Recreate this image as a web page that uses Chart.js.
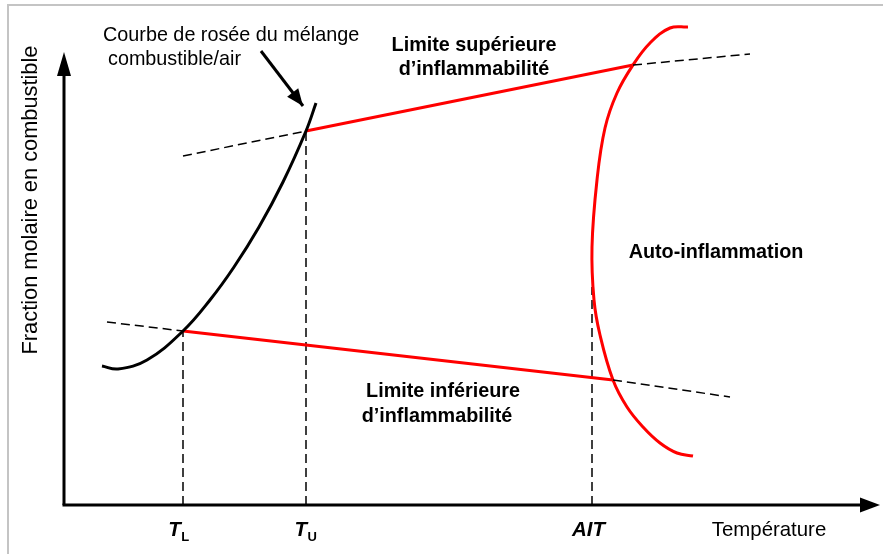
<!DOCTYPE html>
<html><head><meta charset="utf-8">
<script src="https://cdn.jsdelivr.net/npm/chart.js@4/dist/chart.umd.min.js"></script>
<style>
html,body{margin:0;padding:0;background:#fff;overflow:hidden}
#wrap{position:relative;width:883px;height:554px}
#frame{position:absolute;left:7px;top:4px;right:0;bottom:0;border-top:2px solid #c4c4c4;border-left:2px solid #c4c4c4;pointer-events:none}
canvas{position:absolute;left:0;top:0}
</style></head><body>
<div id="wrap"><canvas id="c" width="883" height="554"></canvas><div id="frame"></div></div>
<script>
// ---- Data (x: température, y: fraction molaire; origin at the axes crossing) ----
const dewTemp = [38, 54, 83, 119, 146, 170, 195, 219, 242, 252];
const dewFrac = [139, 136, 145, 174, 205, 238, 278, 323, 374, 402];
const uflTemp = [119, 242, 569, 686];
const uflFrac = [349, 374, 440, 451];
const lflTemp = [43, 119, 549, 666];
const lflFrac = [183, 174, 125, 108];
const aitTemp = [624, 606, 586, 569, 553, 541, 533, 528, 530, 536, 549, 563, 579, 596, 613, 629];
const aitFrac = [478, 477, 462, 440, 412, 377, 325, 258, 205, 170, 125, 98, 78, 62, 52, 49];
const tickNames = ['T', 'T', 'AIT'];
const tickSubs = ['L', 'U', ''];
const tickTemp = [119, 242, 528];
const tickFrac = [174, 374, 218];
const axisMax = [816, 453];           // arrow tips (temperature, fraction)
const xTitle = 'Température';
const yTitle = 'Fraction molaire en combustible';
const noteTexts = ['Courbe de rosée du mélange', 'combustible/air',
  'Limite supérieure', 'd’inflammabilité', 'Auto-inflammation',
  'Limite inférieure', 'd’inflammabilité'];

// ---- Layout / style (not data) ----
const FONT = '"Liberation Sans", Arial, Helvetica, sans-serif';
const noteLayout = [
  {x: 39, y: 469, w: 'normal', align: 'left'},
  {x: 44, y: 445, w: 'normal', align: 'left'},
  {x: 410, y: 459, w: 'bold', align: 'center'},
  {x: 410, y: 435, w: 'bold', align: 'center'},
  {x: 652, y: 252, w: 'bold', align: 'center'},
  {x: 379, y: 113, w: 'bold', align: 'center'},
  {x: 373, y: 88, w: 'bold', align: 'center'}
];
const tickShift = [-4, 0, -3.5];
const pointer = {from: [197, 454], to: [239, 399]};

const pts = (xs, ys) => xs.map((x, i) => ({x, y: ys[i]}));
const DASH = [9, 5];
const limitSeg = {
  borderColor: c => c.p0DataIndex === 1 ? '#ff0000' : '#000',
  borderWidth: c => c.p0DataIndex === 1 ? 3 : 1.5,
  borderDash: c => c.p0DataIndex === 1 ? [] : DASH
};

const datasets = [
  {data: pts(dewTemp, dewFrac), borderColor: '#000', borderWidth: 3, tension: 0.4},
  {data: pts(uflTemp, uflFrac), segment: limitSeg, borderColor: '#000'},
  {data: pts(lflTemp, lflFrac), segment: limitSeg, borderColor: '#000'},
  {data: pts(aitTemp, aitFrac), borderColor: '#ff0000', borderWidth: 3, tension: 0.4}
];
tickTemp.forEach((t, i) => datasets.push({
  data: [{x: t, y: 0}, {x: t, y: tickFrac[i]}], borderColor: '#000', borderWidth: 1.5, borderDash: DASH
}));
datasets.push({data: [{x: pointer.from[0], y: pointer.from[1]}, {x: pointer.to[0], y: pointer.to[1]}],
  borderColor: '#000', borderWidth: 3});
datasets.forEach(d => { d.showLine = true; d.pointRadius = 0; d.pointHoverRadius = 0; d.fill = false; });

function head(ctx, x0, y0, x1, y1, len, hw) {
  const a = Math.atan2(y1 - y0, x1 - x0);
  ctx.save(); ctx.translate(x1, y1); ctx.rotate(a);
  ctx.beginPath(); ctx.moveTo(0, 0); ctx.lineTo(-len, -hw); ctx.lineTo(-len, hw); ctx.closePath();
  ctx.fillStyle = '#000'; ctx.fill(); ctx.restore();
}

const deco = {
  id: 'deco',
  afterDatasetsDraw(chart) {
    const ctx = chart.ctx, X = chart.scales.x, Y = chart.scales.y;
    const ox = X.getPixelForValue(0), oy = Y.getPixelForValue(0);
    const tx = X.getPixelForValue(axisMax[0]), ty = Y.getPixelForValue(axisMax[1]);
    ctx.save();
    ctx.strokeStyle = '#000'; ctx.lineWidth = 3; ctx.lineCap = 'butt';
    ctx.beginPath(); ctx.moveTo(ox, oy); ctx.lineTo(ox, ty + 18); ctx.stroke();
    ctx.beginPath(); ctx.moveTo(ox - 1.5, oy); ctx.lineTo(tx - 18, oy); ctx.stroke();
    head(ctx, ox, oy, ox, ty, 24, 7);
    head(ctx, ox, oy, tx, oy, 20, 7.5);
    // pointer arrow head
    const p0x = X.getPixelForValue(pointer.from[0]), p0y = Y.getPixelForValue(pointer.from[1]);
    const p1x = X.getPixelForValue(pointer.to[0]), p1y = Y.getPixelForValue(pointer.to[1]);
    head(ctx, p0x, p0y, p1x, p1y, 17, 7);
    // notes
    ctx.fillStyle = '#000'; ctx.textBaseline = 'middle';
    noteTexts.forEach((t, i) => {
      const L = noteLayout[i];
      ctx.font = L.w + ' 19.8px ' + FONT; ctx.textAlign = L.align;
      ctx.fillText(t, X.getPixelForValue(L.x), Y.getPixelForValue(L.y));
    });
    // tick labels
    const by = oy + 25;
    tickNames.forEach((n, i) => {
      const cx = X.getPixelForValue(tickTemp[i]) + tickShift[i];
      ctx.font = 'italic bold 20.5px ' + FONT;
      const w1 = ctx.measureText(n).width;
      ctx.font = 'bold 13px ' + FONT;
      const w2 = tickSubs[i] ? ctx.measureText(tickSubs[i]).width + 1 : 0;
      let x0 = cx - (w1 + w2) / 2;
      ctx.textAlign = 'left';
      ctx.font = 'italic bold 20.5px ' + FONT;
      ctx.fillText(n, x0, by);
      if (tickSubs[i]) { ctx.font = 'bold 13px ' + FONT; ctx.fillText(tickSubs[i], x0 + w1 + 0.5, by + 7); }
    });
    // axis titles
    ctx.font = '20.4px ' + FONT; ctx.textAlign = 'center';
    ctx.fillText(xTitle, X.getPixelForValue(705), by);
    ctx.save(); ctx.translate(31, Y.getPixelForValue(305)); ctx.rotate(-Math.PI / 2);
    ctx.font = '21.8px ' + FONT;
    ctx.fillText(yTitle, 0, 0); ctx.restore();
    ctx.restore();
  }
};

new Chart(document.getElementById('c'), {
  type: 'scatter',
  data: {datasets},
  options: {
    responsive: false, animation: false, devicePixelRatio: 1,
    layout: {padding: 0},
    plugins: {legend: {display: false}, tooltip: {enabled: false}, title: {display: false}},
    events: [],
    scales: {
      x: {type: 'linear', min: -64, max: 819, display: false},
      y: {type: 'linear', min: -49, max: 505, display: false}
    }
  },
  plugins: [deco]
});
</script>
</body></html>
